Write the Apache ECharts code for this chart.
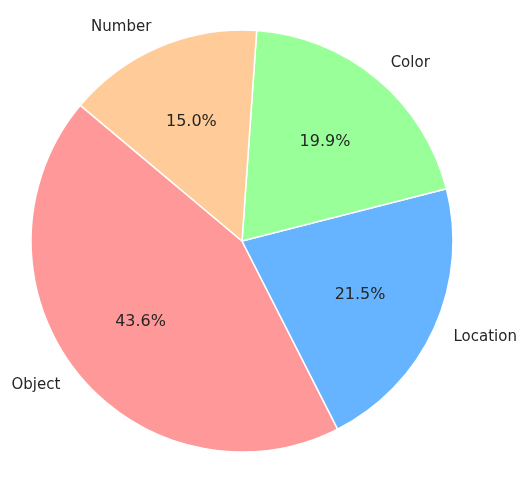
<!DOCTYPE html>
<html>
<head>
<meta charset="utf-8">
<script src="https://cdn.jsdelivr.net/npm/echarts@6/dist/echarts.min.js"></script>
<style>
  html, body { margin: 0; padding: 0; background: #fff; }
  #main { width: 529px; height: 482px; }
</style>
</head>
<body>
<div id="main"></div>
<script>
  // 数据
  var categories = ['Object', 'Location', 'Color', 'Number'];
  var shares = [43.6, 21.5, 19.9, 15.0];
  var colors = ['#ff9999', '#66b3ff', '#99ff99', '#ffcc99'];

  var R = 211;
  var pieData = categories.map(function (name, i) {
    return { name: name, value: shares[i], itemStyle: { color: colors[i] } };
  });

  var myChart = echarts.init(document.getElementById('main'));
  var option = {
    backgroundColor: '#fff',
    animation: false,
    series: [{
      // 扇区 + 外部名称
      type: 'pie',
      center: [242, 241],
      radius: R,
      startAngle: 140,
      clockwise: false,
      avoidLabelOverlap: false,
      silent: true,
      data: pieData,
      itemStyle: { borderColor: '#fff', borderWidth: 1.5 },
      label: {
        show: true,
        position: 'outside',
        formatter: '{b}',
        fontFamily: 'DejaVu Sans',
        fontSize: 15,
        color: '#262626',
        distanceToLabelLine: 0
      },
      labelLine: { show: false, length: R * 0.1, length2: 0 }
    }, {
      // 百分比标签 (0.6 R)
      type: 'pie',
      center: [242, 241],
      radius: R * 1.2,
      startAngle: 140,
      clockwise: false,
      avoidLabelOverlap: false,
      silent: true,
      percentPrecision: 1,
      data: categories.map(function (name, i) {
        return { name: name, value: shares[i] };
      }),
      itemStyle: { color: 'rgba(0,0,0,0)', borderWidth: 0 },
      label: {
        show: true,
        position: 'inside',
        formatter: function (p) { return p.percent.toFixed(1) + '%'; },
        fontFamily: 'DejaVu Sans',
        fontSize: 16,
        color: '#262626'
      },
      labelLine: { show: false }
    }]
  };
  myChart.setOption(option);
</script>
</body>
</html>
